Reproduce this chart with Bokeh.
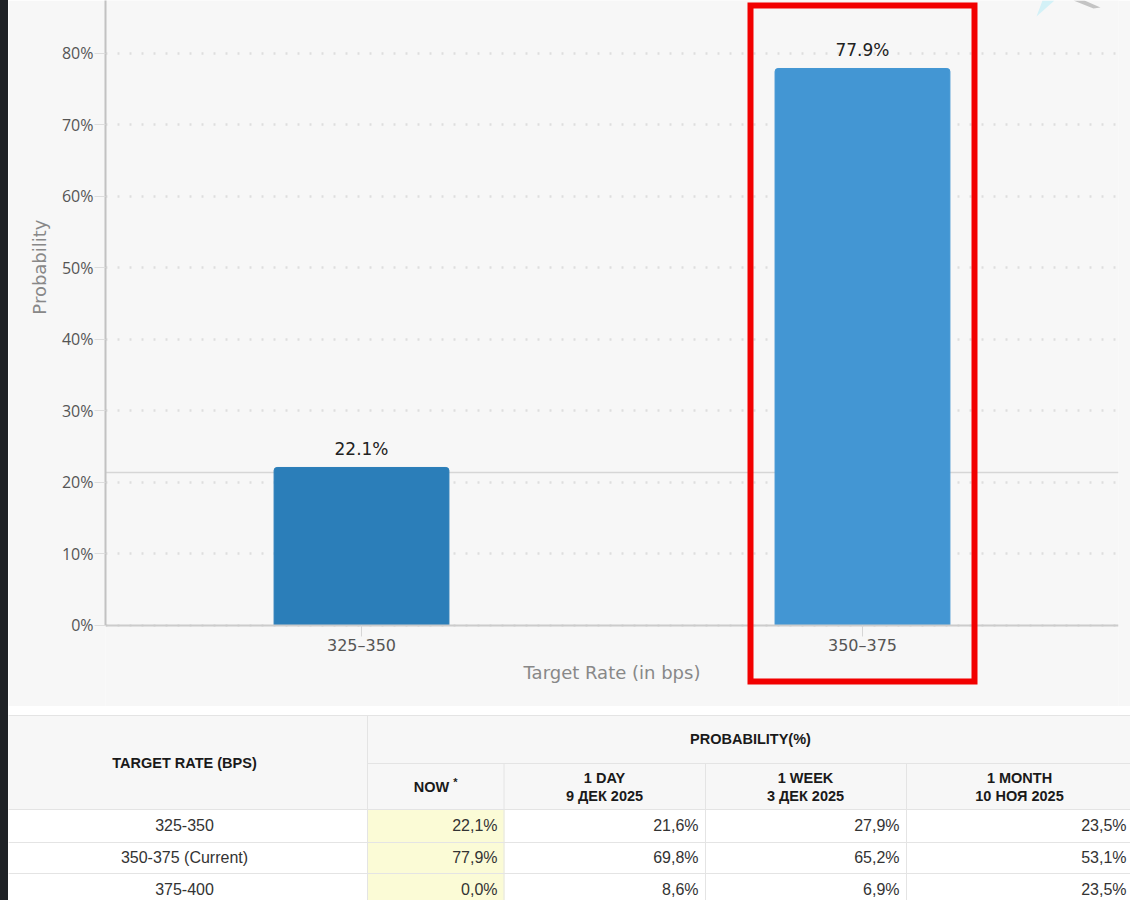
from bokeh.core.properties import value
from bokeh.embed import file_html
from bokeh.layouts import column, row
from bokeh.models import (BoxAnnotation, Div, FactorRange, FixedTicker, LinearAxis, PolyAnnotation,
                          PrintfTickFormatter, Range1d, Span, Title)
from bokeh.plotting import figure
from bokeh.resources import INLINE

# chart data
rates = ["325\u2013350", "350\u2013375"]
probability = [22.1, 77.9]
bar_colors = ["#2b7eb9", "#4396d3"]
y_ticks = [0, 10, 20, 30, 40, 50, 60, 70, 80]
ref_line = 21.4

# table data
row_names = ["325-350", "350-375 (Current)", "375-400"]
now = [22.1, 77.9, 0.0]
one_day = [21.6, 69.8, 8.6]
one_week = [27.9, 65.2, 6.9]
one_month = [23.5, 53.1, 23.5]
period_names = ["1 DAY", "1 WEEK", "1 MONTH"]
period_dates = ["9 \u0414\u0415\u041a 2025", "3 \u0414\u0415\u041a 2025", "10 \u041d\u041e\u042f 2025"]

# page layout, in pixels of the picture
STRIP = 8
W = 1122
CHART_H = 706
TABLE_H = 194
col_edges = [8, 367, 503.5, 705, 906, 1133]
row_edges = [809, 842, 873, 905]
row_mid = [824.5, 857, 888.5]
col_right = [497, 698, 899, 1126]
period_mid = [604, 805, 1019]

# ---- chart ----
# the frame runs down to the bottom so the red box is not clipped at the axis
p = figure(
    width=W, height=CHART_H,
    x_range=FactorRange(factors=rates, range_padding=0.011, range_padding_units="absolute"),
    y_range=Range1d(-11.33, 87.41),
    output_backend="svg", toolbar_location=None, frame_align=False,
    min_border_left=97, min_border_right=12, min_border_top=0, min_border_bottom=0,
    background_fill_color="#f7f7f7", border_fill_color="#f7f7f7", outline_line_color=None,
    x_axis_label="Target Rate (in bps)",
)

p.add_layout(Span(location=ref_line, dimension="width", line_color="#d6d6d6", line_width=1.5, level="underlay"))
p.vbar(x=rates, top=probability, width=0.349, color=bar_colors, border_radius=(3, 3, 0, 0))
p.text(x=rates, y=probability, text=[f"{v}%" for v in probability], text_align="center", text_baseline="bottom",
       y_offset=-8, text_font=value("DejaVu Sans"), text_font_size="17px", text_color="#222222")

p.xgrid.grid_line_color = None
p.ygrid.ticker = FixedTicker(ticks=y_ticks)
p.ygrid.grid_line_color = "#dedede"
p.ygrid.grid_line_width = 2.5
p.ygrid.grid_line_dash = [2, 10]

p.yaxis.ticker = FixedTicker(ticks=y_ticks)
p.yaxis.bounds = (0, 87.41)
p.yaxis.formatter = PrintfTickFormatter(format="%d%%")
p.yaxis.major_label_text_font = "Open Sans"
p.yaxis.major_label_text_font_size = "16px"
p.yaxis.major_label_text_color = "#555555"
p.yaxis.major_label_standoff = 1
p.yaxis.major_tick_out = 11
p.yaxis.major_tick_in = 0
p.yaxis.minor_tick_line_color = None
p.yaxis.major_tick_line_color = "#dddddd"
p.yaxis.axis_line_color = "#c2c2c2"
p.yaxis.axis_line_width = 2

# empty axis as a spacer, then the y title as a side title
# (an axis label can only sit at the middle of the frame)
p.add_layout(LinearAxis(ticker=FixedTicker(ticks=[]), axis_line_color=None, major_tick_line_color=None,
                        minor_tick_line_color=None, major_tick_in=0, major_tick_out=9,
                        major_label_standoff=0), "left")
p.add_layout(Title(text="Probability", align="right", offset=219, standoff=17,
                   text_font="DejaVu Sans", text_font_size="18px", text_font_style="normal",
                   text_color="#888888"), "left")

p.xaxis.fixed_location = 0
p.xaxis.major_label_text_font = "DejaVu Sans"
p.xaxis.major_label_text_font_size = "16px"
p.xaxis.major_label_text_color = "#555555"
p.xaxis.major_label_standoff = 0
p.xaxis.major_tick_out = 11
p.xaxis.major_tick_in = 0
p.xaxis.major_tick_line_color = "#d6d6d6"
p.xaxis.axis_line_color = "#cccccc"
p.xaxis.axis_line_width = 2
p.xaxis.axis_label_text_font = "DejaVu Sans"
p.xaxis.axis_label_text_font_size = "18px"
p.xaxis.axis_label_text_font_style = "normal"
p.xaxis.axis_label_text_color = "#888888"
p.xaxis.axis_label_standoff = 3

# red frame around the second bar
p.add_layout(BoxAnnotation(left=742, right=966, top=5, bottom=681,
                           left_units="canvas", right_units="canvas", top_units="canvas", bottom_units="canvas",
                           fill_alpha=0, line_color="#f20000", line_width=6, line_alpha=1, line_join="miter"))
# faint logo remains in the top right corner
p.add_layout(PolyAnnotation(xs=[1065, 1076, 1092, 1085], ys=[0, 0, 7, 8], xs_units="canvas", ys_units="canvas",
                            fill_color="#c4c4c4", fill_alpha=1, line_alpha=0))
p.add_layout(PolyAnnotation(xs=[1034, 1046, 1028, 1025], ys=[0, 0, 16, 24], xs_units="canvas", ys_units="canvas",
                            fill_color="#d3f1f7", fill_alpha=1, line_alpha=0))

# ---- table ----
t = figure(
    width=W, height=TABLE_H,
    x_range=Range1d(STRIP, STRIP + W), y_range=Range1d(CHART_H + TABLE_H, CHART_H),
    x_axis_location=None, y_axis_location=None,
    output_backend="svg", toolbar_location=None, frame_align=False,
    min_border=0, outline_line_color=None, background_fill_color="#ffffff", border_fill_color="#ffffff",
)
t.grid.visible = False

# cell backgrounds
t.quad(left=[col_edges[0]], right=[col_edges[-1]], top=[715], bottom=[row_edges[0]], color="#f7f7f7")
t.quad(left=[col_edges[1]], right=[col_edges[2]], top=[row_edges[0]], bottom=[row_edges[-1]], color="#fbfbd6")

# cell lines
line_color = "#e4e4e4"
t.segment(x0=[col_edges[0], col_edges[1]], x1=[col_edges[-1]] * 2, y0=[715, 763], y1=[715, 763], line_color=line_color)
t.segment(x0=[col_edges[0]] * len(row_edges), x1=[col_edges[-1]] * len(row_edges), y0=row_edges, y1=row_edges,
          line_color=line_color)
t.segment(x0=col_edges[1:2], x1=col_edges[1:2], y0=[715], y1=[row_edges[-1]], line_color=line_color)
t.segment(x0=col_edges[2:5], x1=col_edges[2:5], y0=[763] * 3, y1=[row_edges[-1]] * 3, line_color=line_color)

font = value("Liberation Sans")
head = dict(text_font=font, text_font_size="14.5px", text_font_style="bold", text_color="#1a1a1a",
            text_align="center", text_baseline="middle")
t.text(x=[184], y=[762], text=["TARGET RATE (BPS)"], **head)
t.text(x=[750], y=[738], text=["PROBABILITY(%)"], **head)
t.text(x=[431], y=[786], text=["NOW"], **head)
t.text(x=[455], y=[781], text=["*"], text_font=font, text_font_size="11px", text_font_style="bold",
       text_color="#1a1a1a", text_align="center", text_baseline="middle")
t.text(x=period_mid, y=[777] * 3, text=period_names, **head)
t.text(x=period_mid, y=[795] * 3, text=period_dates, **head)

body = dict(text_font=font, text_font_size="16px", text_color="#333333", text_baseline="middle")
t.text(x=[184] * 3, y=row_mid, text=row_names, text_align="center", **body)
for right, series in zip(col_right, [now, one_day, one_week, one_month]):
    labels = [f"{v:.1f}%".replace(".", ",") for v in series]
    t.text(x=[right] * 3, y=row_mid, text=labels, text_align="right", **body)

# dark strip down the left side of the screenshot
strip = Div(text="", width=STRIP, height=CHART_H + TABLE_H, margin=0, styles={"background": "#1f2226"})

layout = row(strip, column(p, t, spacing=0), spacing=0)
open("out.html", "w").write(file_html(layout, INLINE))
